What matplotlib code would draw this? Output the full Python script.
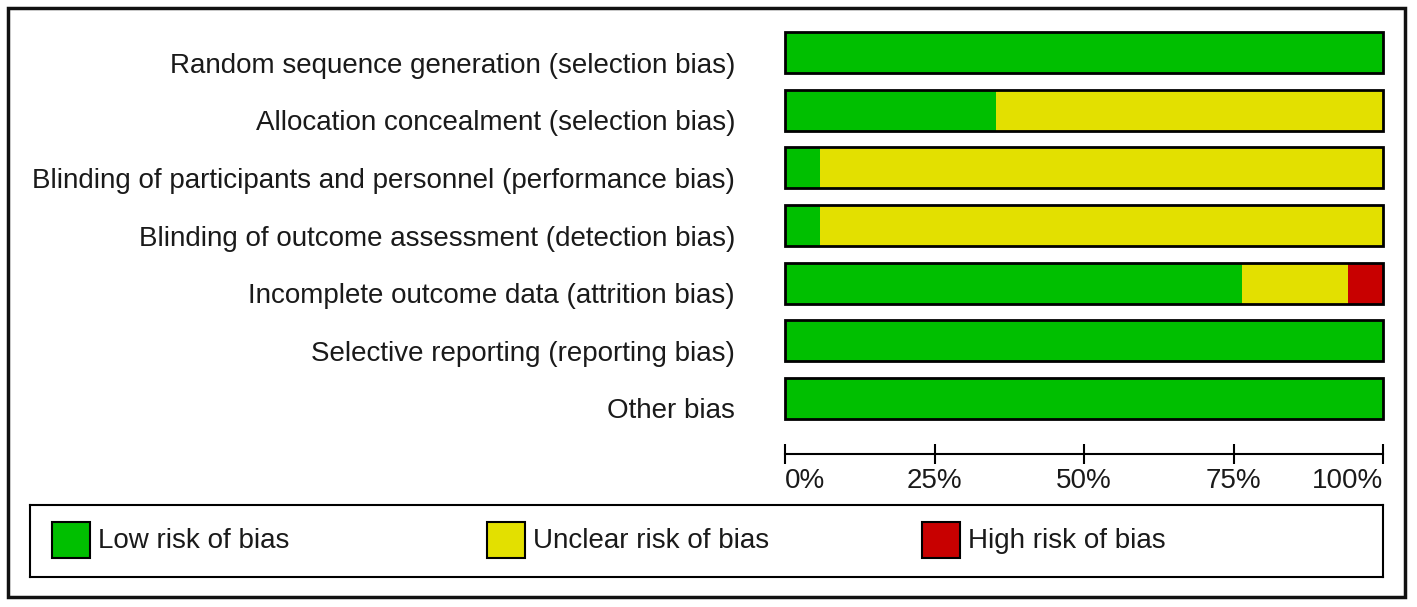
import matplotlib
matplotlib.use('Agg')
import matplotlib.pyplot as plt
from matplotlib.patches import Rectangle
from matplotlib.transforms import ScaledTranslation
import numpy as np

plt.rcParams['font.family'] = ['Liberation Sans', 'DejaVu Sans']

# ---- data ----
categories = [
    'Random sequence generation (selection bias)',
    'Allocation concealment (selection bias)',
    'Blinding of participants and personnel (performance bias)',
    'Blinding of outcome assessment (detection bias)',
    'Incomplete outcome data (attrition bias)',
    'Selective reporting (reporting bias)',
    'Other bias',
]
n_studies = 17
low_counts = [17, 6, 1, 1, 13, 17, 17]
unclear_counts = [0, 11, 16, 16, 3, 0, 0]
high_counts = [0, 0, 0, 0, 1, 0, 0]
legend_labels = ['Low risk of bias', 'Unclear risk of bias', 'High risk of bias']
colors = ['#00bf00', '#e3e000', '#c80000']
xticks = [0, 25, 50, 75, 100]
xticklabels = ['0%', '25%', '50%', '75%', '100%']

W, H = 1417, 607
fig = plt.figure(figsize=(W / 100, H / 100), dpi=100)
fig.patch.set_facecolor('white')

def fx(px):
    return px / W

def fy(py):
    return 1 - py / H

txt_color = '#1a1a1a'
fs = 20

# ---- main bar axes ----
ax = fig.add_axes([fx(785), fy(427.3), fx(1383) - fx(785), fy(23.7) - fy(427.3)])
y = np.arange(len(categories))
low = np.array(low_counts) / n_studies * 100
unclear = np.array(unclear_counts) / n_studies * 100
high = np.array(high_counts) / n_studies * 100
bh = 0.71
ax.barh(y, low, height=bh, color=colors[0], lw=0)
ax.barh(y, unclear, left=low, height=bh, color=colors[1], lw=0)
ax.barh(y, high, left=low + unclear, height=bh, color=colors[2], lw=0)
outl = ax.barh(y, low + unclear + high, height=bh, fill=False, edgecolor='black', lw=2.0)
for p in outl:
    p.set_clip_on(False)
ax.set_xlim(0, 100)
ax.set_ylim(len(categories) - 0.5, -0.5)
ax.set_yticks(y, categories, fontsize=fs, color=txt_color)
ax.tick_params(axis='y', length=0, pad=36)
shift = ScaledTranslation(0, -0.10, fig.dpi_scale_trans)
for lab in ax.get_yticklabels():
    lab.set_transform(lab.get_transform() + shift)
for s in ['top', 'right', 'left']:
    ax.spines[s].set_visible(False)
ax.spines['bottom'].set_position(('outward', 19))
ax.spines['bottom'].set_linewidth(1.5)
ax.set_xticks(xticks, xticklabels)
ax.tick_params(axis='x', direction='inout', length=14, width=1.5, pad=3,
               labelsize=fs, labelcolor=txt_color)
xl = ax.get_xticklabels()
xl[0].set_ha('left')
xl[-1].set_ha('right')
ax.patch.set_alpha(0)

# ---- legend box ----
lax = fig.add_axes([fx(30), fy(577), fx(1383) - fx(30), fy(505) - fy(577)])
lax.set_xlim(30, 1383)
lax.set_ylim(577, 505)
lax.set_xticks([])
lax.set_yticks([])
for s in lax.spines.values():
    s.set_linewidth(1.5)
for i, (lab, col) in enumerate(zip(legend_labels, colors)):
    x0 = 52 + 435 * i
    lax.add_patch(Rectangle((x0, 522), 38, 36, facecolor=col, edgecolor='black', lw=1.5))
    lax.text(x0 + 46, 541, lab, fontsize=fs, color=txt_color, va='center', ha='left')

# ---- outer frame ----
fig.add_artist(Rectangle((fx(8), fy(597)), fx(1405) - fx(8), fy(8) - fy(597),
                         transform=fig.transFigure, fill=False, lw=2.5, ec='#111111'))

fig.savefig('out.png', dpi=100)
